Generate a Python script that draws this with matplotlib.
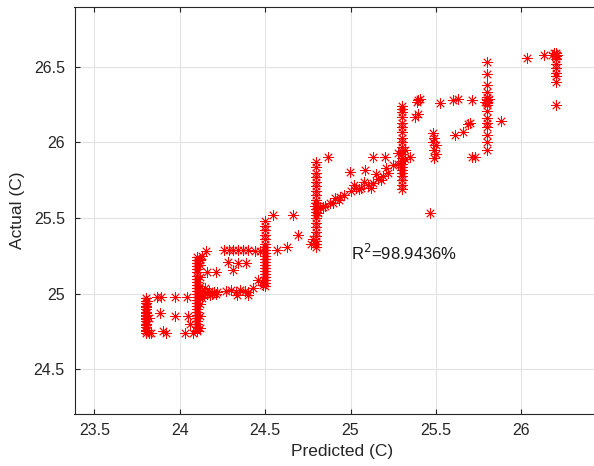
import matplotlib
matplotlib.use("Agg")
import matplotlib.pyplot as plt
import numpy as np

plt.rcParams['font.family'] = ['Liberation Sans', 'DejaVu Sans']

# column at 23.8 and the points around it
a_x = [23.8] * 19 + [23.82, 23.83, 23.81, 23.82, 23.81,
                     23.865, 23.885, 23.97, 23.97, 24.04, 23.90, 23.92, 24.03, 24.06, 24.05, 23.89]
a_y = [24.74, 24.75, 24.76, 24.78, 24.79, 24.80, 24.82, 24.83, 24.84, 24.85,
       24.86, 24.87, 24.88, 24.90, 24.91, 24.92, 24.94, 24.95, 24.97,
       24.74, 24.74, 24.76, 24.84, 24.95,
       24.98, 24.87, 24.98, 24.85, 24.98, 24.75, 24.74, 24.74, 24.80, 24.85, 24.98]

# column at 24.1 plus the band at 25.0
b_x = [24.1] * 26 + [24.12] * 8 + [
    24.12, 24.13, 24.14, 24.15, 24.16, 24.17, 24.18, 24.19, 24.2, 24.21, 24.22, 24.13, 24.15,
    24.12, 24.13, 24.155, 24.16, 24.21, 24.08]
b_y = [24.75, 24.76, 24.78, 24.80, 24.82, 24.84, 24.86, 24.88, 24.90, 24.92,
       24.94, 24.96, 24.98, 25.00, 25.02, 25.04, 25.06, 25.08, 25.10, 25.12,
       25.14, 25.16, 25.18, 25.20, 25.22, 25.24,
       24.77, 24.85, 24.93, 24.99, 25.05, 25.11, 25.19, 25.23,
       25.00, 25.02, 24.99, 25.01, 25.00, 25.02, 24.99, 25.00, 25.01, 25.00, 25.01, 24.97, 25.04,
       25.22, 25.25, 25.28, 25.145, 25.145, 24.74]

# rows at 25.29 / 25.2 / 25.02 between 24.25 and 24.45
c_x = [24.26, 24.29, 24.31, 24.34, 24.37, 24.40, 24.44, 24.47,
       24.285, 24.314, 24.344, 24.39,
       24.27, 24.30, 24.33, 24.35, 24.38, 24.40, 24.43, 24.334, 24.40]
c_y = [25.29, 25.29, 25.29, 25.29, 25.29, 25.29, 25.28, 25.28,
       25.21, 25.157, 25.20, 25.20,
       25.02, 25.024, 25.01, 25.024, 25.02, 25.013, 25.035, 24.99, 24.99]

# column at 24.5
d_x = [24.5] * 20 + [24.49, 24.48, 24.46, 24.548, 24.665, 24.57, 24.63, 24.69]
d_y = [25.05, 25.07, 25.09, 25.11, 25.13, 25.15, 25.17, 25.19, 25.21, 25.23,
       25.25, 25.27, 25.29, 25.31, 25.33, 25.36, 25.39, 25.42, 25.45, 25.48,
       25.06, 25.08, 25.09, 25.52, 25.52, 25.29, 25.31, 25.39]

# column at 24.8
e_x = [24.8] * 22 + [24.77, 24.78, 24.81, 24.79]
e_y = [25.31, 25.33, 25.35, 25.38, 25.41, 25.44, 25.47, 25.50, 25.52, 25.54,
       25.56, 25.58, 25.60, 25.62, 25.65, 25.68, 25.71, 25.74, 25.77, 25.80,
       25.84, 25.87,
       25.33, 25.36, 25.53, 25.58]

# diagonal band 24.8 -> 25.25
f_x = [24.82, 24.85, 24.88, 24.90, 24.93, 24.96, 25.00, 25.03, 25.06, 25.10,
       25.13, 25.16, 25.19, 25.22, 25.25, 24.87, 24.997, 25.085, 25.134, 25.20,
       24.84, 24.94, 25.02, 25.08, 25.12, 25.18, 24.91, 25.05, 25.15, 25.21]
f_y = [25.57, 25.58, 25.60, 25.60, 25.62, 25.65, 25.68, 25.70, 25.70, 25.72,
       25.73, 25.76, 25.78, 25.80, 25.85, 25.905, 25.806, 25.817, 25.905, 25.905,
       25.575, 25.64, 25.72, 25.74, 25.70, 25.75, 25.63, 25.69, 25.79, 25.83]

# column at 25.3 and neighbours
g_x = [25.3] * 22 + [25.28, 25.32, 25.28, 25.32, 25.35,
                     25.378, 25.397, 25.397, 25.407, 25.39]
g_y = [25.69, 25.72, 25.75, 25.78, 25.80, 25.82, 25.84, 25.86, 25.88, 25.90,
       25.92, 25.94, 25.97, 26.00, 26.03, 26.07, 26.10, 26.13, 26.17, 26.20,
       26.22, 26.24,
       25.86, 25.89, 25.93, 25.95, 25.905,
       26.17, 26.19, 26.28, 26.29, 26.27]

# points between 25.45 and 25.75
h_x = [25.48, 25.49, 25.48, 25.50, 25.49, 25.50, 25.49, 25.466,
       25.524, 25.60, 25.63, 25.71, 25.61, 25.66, 25.70, 25.69, 25.71, 25.73]
h_y = [26.06, 26.03, 26.00, 25.98, 25.95, 25.92, 25.90, 25.53,
       26.258, 26.28, 26.285, 26.28, 26.05, 26.07, 26.126, 26.12, 25.905, 25.905]

# column at 25.8
i_x = [25.8] * 16 + [25.79, 25.81, 25.88]
i_y = [26.53, 26.45, 26.38, 26.33, 26.30, 26.28, 26.27, 26.26, 26.25, 26.21,
       26.16, 26.13, 26.10, 26.05, 26.00, 25.95,
       26.27, 26.29, 26.14]

# column at 26.2
j_x = [26.2] * 10 + [26.18, 26.19, 26.21, 26.035, 26.13]
j_y = [26.59, 26.58, 26.57, 26.55, 26.52, 26.49, 26.46, 26.44, 26.40, 26.25,
       26.58, 26.59, 26.58, 26.56, 26.577]

predicted = np.concatenate([a_x, b_x, c_x, d_x, e_x, f_x, g_x, h_x, i_x, j_x])
actual = np.concatenate([a_y, b_y, c_y, d_y, e_y, f_y, g_y, h_y, i_y, j_y])
r2_text = 'R$^2$=98.9436%'

fig = plt.figure(figsize=(5.94, 4.66), dpi=100)
# axes run past the right edge of the picture, as in the cropped original
ax = fig.add_axes([74.5 / 594, 52.3 / 466, 535.5 / 594, 406.4 / 466])

ax.plot(predicted, actual, linestyle='none', marker=(8, 2, 0), color='red',
        ms=7.5, mew=0.6)

ax.set_xlim(23.384, 26.519)
ax.set_ylim(24.2066, 26.893)
ax.set_xticks([23.5, 24, 24.5, 25, 25.5, 26])
ax.set_xticklabels(['23.5', '24', '24.5', '25', '25.5', '26'])
ax.set_yticks([24.5, 25, 25.5, 26, 26.5])
ax.set_yticklabels(['24.5', '25', '25.5', '26', '26.5'])

ax.grid(True, color='#e3e3e3', linewidth=0.8)
ax.set_axisbelow(True)
for s in ax.spines.values():
    s.set_color('#262626')
    s.set_linewidth(0.8)
ax.tick_params(direction='in', length=3.5, width=0.8, colors='#262626',
               labelsize=11.5, top=True, right=True, pad=7)

ax.set_xlabel('Predicted (C)', fontsize=12.5, color='#262626', labelpad=4)
ax.set_ylabel('Actual (C)', fontsize=12.5, color='#262626', labelpad=6)

ax.text(25.0, 25.27, r2_text, fontsize=12, color='#1a1a1a', va='center', ha='left')

fig.savefig('out.png', dpi=100)
